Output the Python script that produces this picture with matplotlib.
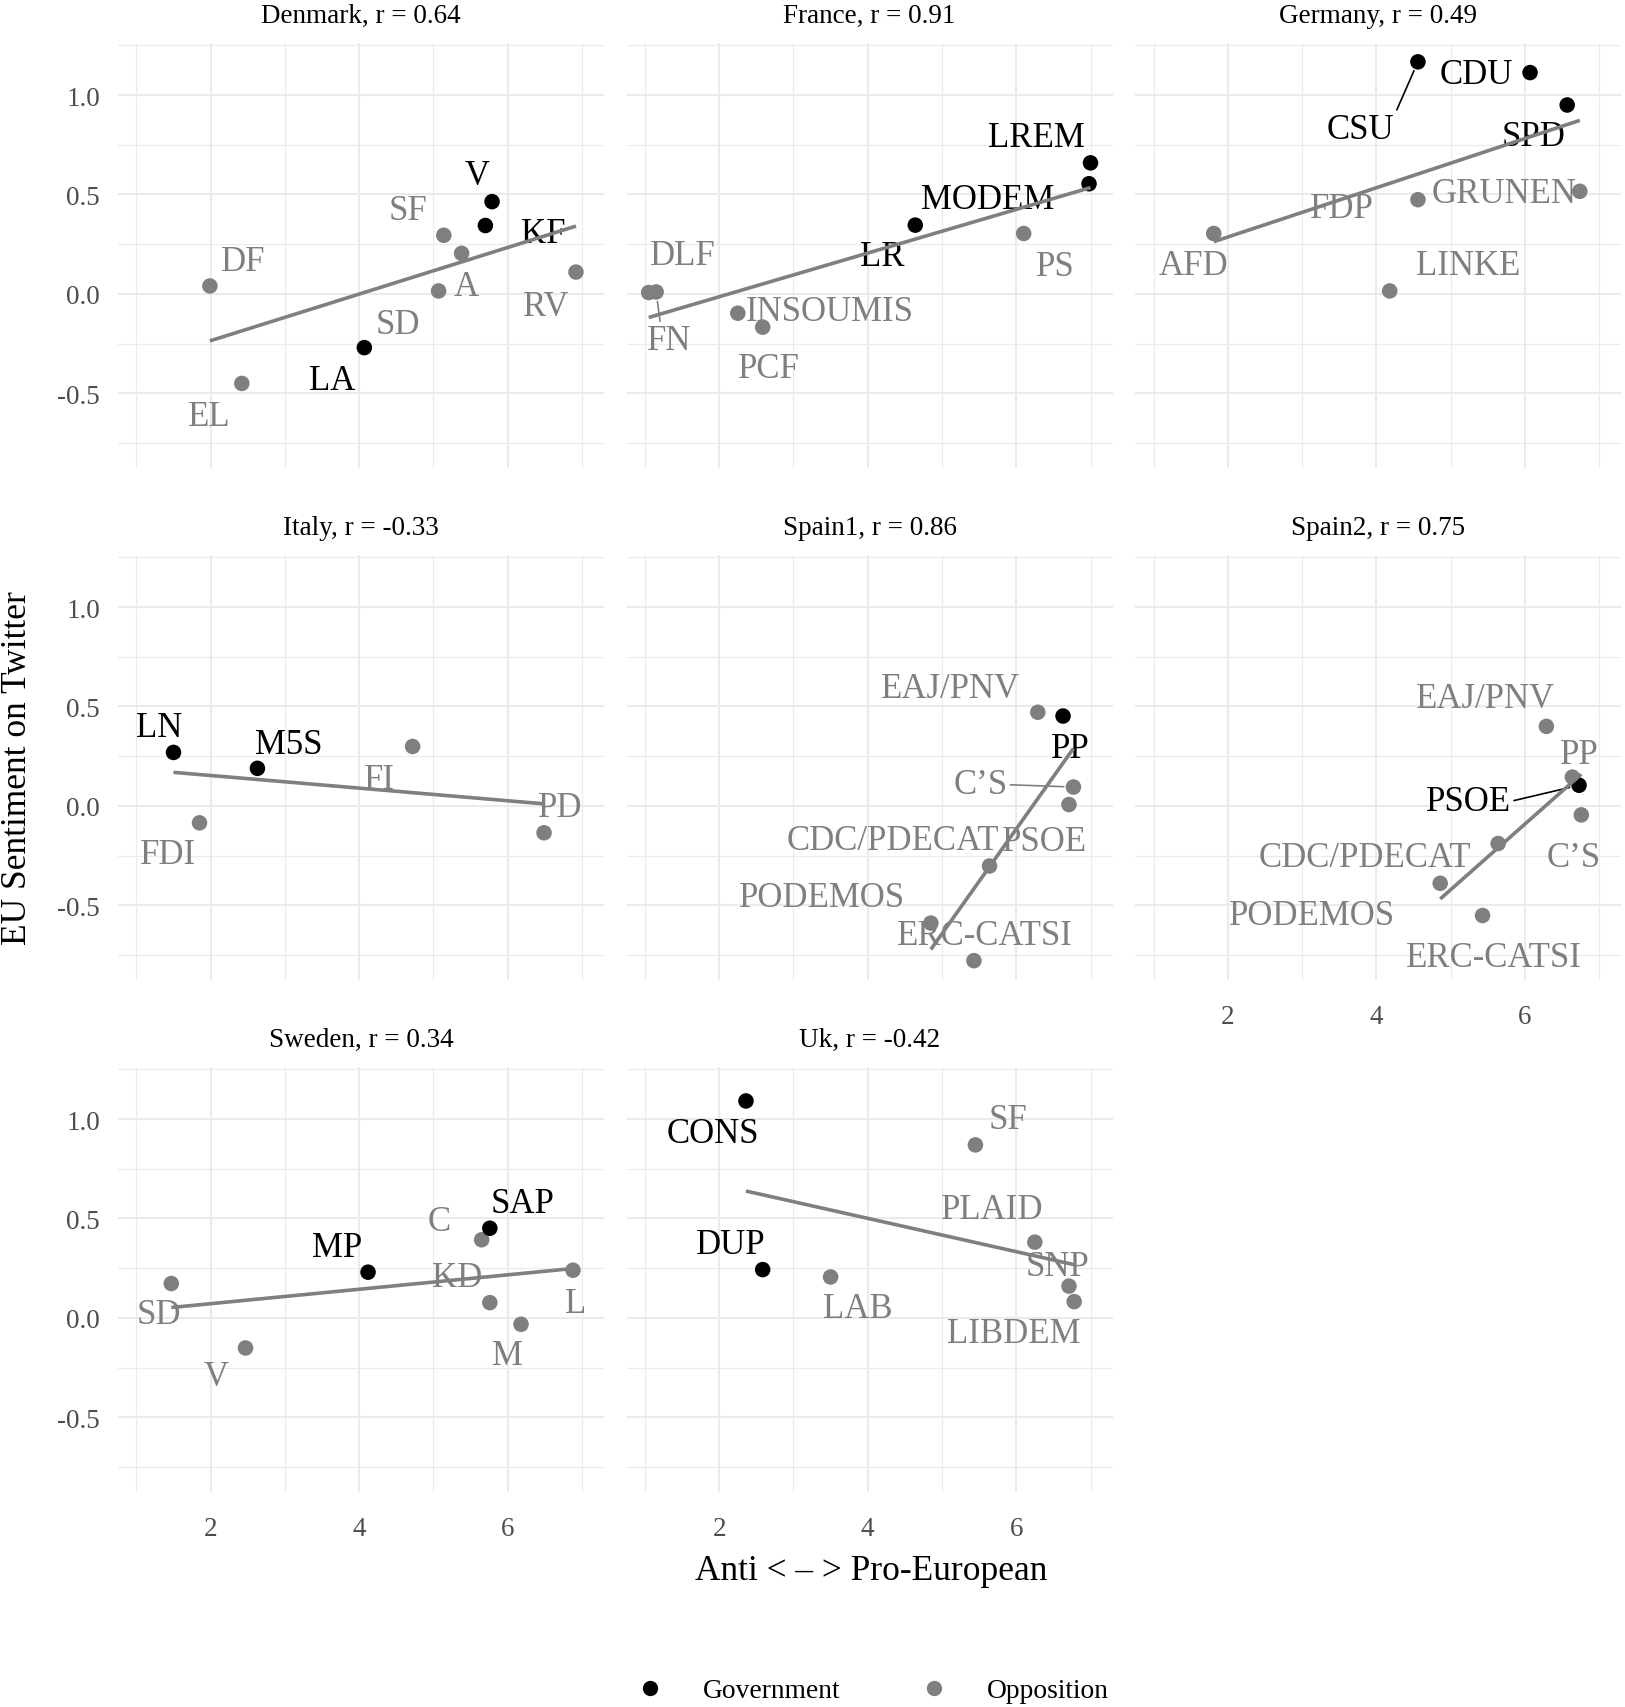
import numpy as np
import matplotlib
matplotlib.use('Agg')
import matplotlib.pyplot as plt
from matplotlib.lines import Line2D

plt.rcParams['font.family'] = ['Liberation Serif', 'DejaVu Serif']

# facet titles
COUNTRIES = ['Denmark', 'France', 'Germany', 'Italy', 'Spain1', 'Spain2', 'Sweden', 'Uk']
R_VALUES = ['0.64', '0.91', '0.49', '-0.33', '0.86', '0.75', '0.34', '-0.42']

# party positions: x = anti/pro-European score, y = EU sentiment on Twitter, gov = 1 for government
DK_PARTY = ['DF', 'EL', 'LA', 'SD', 'A', 'SF', 'V', 'KF', 'RV']
DK_X = [1.99, 2.42, 4.07, 5.07, 5.38, 5.14, 5.79, 5.70, 6.92]
DK_Y = [0.04, -0.45, -0.27, 0.015, 0.204, 0.295, 0.464, 0.344, 0.11]
DK_GOV = [0, 0, 1, 0, 0, 0, 1, 1, 0]

FR_PARTY = ['DLF', 'FN', 'INSOUMIS', 'PCF', 'LR', 'MODEM', 'LREM', 'PS']
FR_X = [1.05, 1.15, 2.25, 2.585, 4.64, 6.98, 7.0, 6.1]
FR_Y = [0.007, 0.01, -0.097, -0.167, 0.346, 0.554, 0.659, 0.304]
FR_GOV = [0, 0, 0, 0, 1, 1, 1, 0]

DE_PARTY = ['CSU', 'CDU', 'SPD', 'GRUNEN', 'FDP', 'AFD', 'LINKE']
DE_X = [4.56, 6.07, 6.57, 6.74, 4.56, 1.81, 4.18]
DE_Y = [1.167, 1.113, 0.95, 0.516, 0.474, 0.304, 0.015]
DE_GOV = [1, 1, 1, 0, 0, 0, 0]

IT_PARTY = ['LN', 'M5S', 'FDI', 'FI', 'PD']
IT_X = [1.5, 2.63, 1.85, 4.72, 6.49]
IT_Y = [0.269, 0.189, -0.085, 0.299, -0.135]
IT_GOV = [1, 1, 0, 0, 0]

ES1_PARTY = ['EAJ/PNV', 'PP', 'C\u2019S', 'PSOE', 'CDC/PDECAT', 'PODEMOS', 'ERC-CATSI']
ES1_X = [6.29, 6.63, 6.77, 6.71, 5.64, 4.85, 5.43]
ES1_Y = [0.471, 0.452, 0.095, 0.007, -0.302, -0.589, -0.778]
ES1_GOV = [0, 1, 0, 0, 0, 0, 0]

ES2_PARTY = ['EAJ/PNV', 'PP', 'PSOE', 'C\u2019S', 'CDC/PDECAT', 'PODEMOS', 'ERC-CATSI']
ES2_X = [6.29, 6.64, 6.73, 6.76, 5.64, 4.86, 5.43]
ES2_Y = [0.40, 0.145, 0.104, -0.045, -0.189, -0.389, -0.551]
ES2_GOV = [0, 0, 1, 0, 0, 0, 0]

SE_PARTY = ['SD', 'V', 'MP', 'C', 'SAP', 'KD', 'M', 'L']
SE_X = [1.47, 2.47, 4.12, 5.65, 5.76, 5.76, 6.18, 6.88]
SE_Y = [0.173, -0.151, 0.23, 0.393, 0.451, 0.077, -0.032, 0.24]
SE_GOV = [0, 0, 1, 0, 1, 0, 0, 0]

UK_PARTY = ['CONS', 'DUP', 'LAB', 'SF', 'PLAID', 'SNP', 'LIBDEM']
UK_X = [2.36, 2.585, 3.5, 5.45, 6.25, 6.71, 6.78]
UK_Y = [1.091, 0.243, 0.206, 0.87, 0.381, 0.16, 0.082]
UK_GOV = [1, 1, 0, 0, 0, 0, 0]

Y_TICKS = [-0.5, 0.0, 0.5, 1.0]
Y_TICK_LABELS = ['-0.5', '0.0', '0.5', '1.0']
X_TICKS = [2, 4, 6]
X_TICK_LABELS = ['2', '4', '6']

# label placement (repel-style offsets, in points) -- layout only
LABEL_OFFSETS = {
    'Denmark': [(24, 17.5), (-23.7, -23.5), (-23.4, -23.8), (-29.5, -24.5), (3.6, -24),
                (-25.7, 17.5), (-11, 18.5), (42, -5.8), (-22, -24.5)],
    'France': [(24.9, 26.4), (9.5, -35), (66, 1.2), (4.6, -30), (-23.7, -22.8),
               (-72.8, -11.5), (-38.8, 18.5), (23.1, -24)],
    'Germany': [(-41.5, -48.5), (-38.8, -1.2), (-24, -22.8), (-54.5, -1.7),
                (-54.7, -6.5), (-14.5, -23.3), (56.5, 18.2)],
    'Italy': [(-10, 18), (22.9, 17), (-22.6, -22.8), (-24.2, -24), (11.5, 18)],
    'Spain1': [(-63, 17.3), (5.1, -23.3), (-66.9, 1.7), (-17.5, -26.4), (-69.4, 18),
               (-78.4, 18.5), (7.7, 18)],
    'Spain2': [(-43.6, 20.2), (4.8, 16), (-79.5, -11.5), (-5.3, -31), (-95.8, -10.3),
               (-92.4, -23.5), (8.5, -30.2)],
    'Sweden': [(-9, -22.3), (-21.3, -20.6), (-22.1, 17.5), (-30.9, 13.2), (23.4, 17.5),
               (-23.7, 18), (-10, -22.8), (2, -24)],
    'Uk': [(-23.7, -23.5), (-23.1, 18), (19.8, -23), (23.7, 18.2), (-30.6, 23.8),
           (-8.5, 14.4), (-43.5, -23)],
}
# labels that get a connector segment: (country, party) -> relpos on the text box
SEGMENTS = {
    ('France', 'FN'): (0.3, 1.0),
    ('Germany', 'CSU'): (1.0, 0.9),
    ('Spain1', 'C\u2019S'): (1.0, 0.5),
    ('Spain2', 'PSOE'): (1.0, 0.5),
}

DATA = {
    'Denmark': (DK_PARTY, DK_X, DK_Y, DK_GOV),
    'France': (FR_PARTY, FR_X, FR_Y, FR_GOV),
    'Germany': (DE_PARTY, DE_X, DE_Y, DE_GOV),
    'Italy': (IT_PARTY, IT_X, IT_Y, IT_GOV),
    'Spain1': (ES1_PARTY, ES1_X, ES1_Y, ES1_GOV),
    'Spain2': (ES2_PARTY, ES2_X, ES2_Y, ES2_GOV),
    'Sweden': (SE_PARTY, SE_X, SE_Y, SE_GOV),
    'Uk': (UK_PARTY, UK_X, UK_Y, UK_GOV),
}

GOV_COL = '#000000'
OPP_COL = '#7f7f7f'
GRID_COL = '#ebebeb'
TICK_COL = '#4d4d4d'

W, H = 1625, 1708
COL_LEFT = [118.0, 626.6, 1135.2]
ROW_TOP = [43.5, 555.5, 1067.5]
PANEL_W, PANEL_H = 486.0, 425.5

# shared scales, ggplot-style 5% expansion
all_x = np.concatenate([np.asarray(v[1], float) for v in DATA.values()])
all_y = np.concatenate([np.asarray(v[2], float) for v in DATA.values()])
xpad = 0.05 * (all_x.max() - all_x.min())
ypad = 0.05 * (all_y.max() - all_y.min())
XLIM = (all_x.min() - xpad, all_x.max() + xpad)
YLIM = (all_y.min() - ypad, all_y.max() + ypad)

fig = plt.figure(figsize=(W / 100, H / 100), dpi=100)

for i, country in enumerate(COUNTRIES):
    row, col = divmod(i, 3)
    ax = fig.add_axes([COL_LEFT[col] / W, 1 - (ROW_TOP[row] + PANEL_H) / H,
                       PANEL_W / W, PANEL_H / H])
    parties, xs, ys, gov = DATA[country]
    xs = np.asarray(xs, float)
    ys = np.asarray(ys, float)
    gov = np.asarray(gov, bool)

    ax.set_xlim(*XLIM)
    ax.set_ylim(*YLIM)
    for s in ax.spines.values():
        s.set_visible(False)
    ax.set_xticks(X_TICKS)
    ax.set_yticks(Y_TICKS)
    ax.set_xticks([1, 3, 5, 7], minor=True)
    ax.set_yticks([-0.75, -0.25, 0.25, 0.75, 1.25], minor=True)
    ax.grid(which='major', color=GRID_COL, lw=1.5, zorder=0)
    ax.grid(which='minor', color=GRID_COL, lw=0.8, zorder=0)
    ax.set_axisbelow(True)
    ax.tick_params(which='both', length=0, labelsize=19.5, labelcolor=TICK_COL)
    ax.tick_params(axis='x', pad=17.5)
    ax.tick_params(axis='y', pad=13)

    if col == 0:
        ax.set_yticklabels(Y_TICK_LABELS)
    else:
        ax.set_yticklabels([])
    # bottom panel of each column carries the x labels
    if i + 3 >= len(COUNTRIES):
        ax.set_xticklabels(X_TICK_LABELS)
    else:
        ax.set_xticklabels([])

    ax.set_title(f'{country}, r = {R_VALUES[i]}', fontsize=19.5, pad=15, color='black')

    colors = np.where(gov, GOV_COL, OPP_COL)
    ax.scatter(xs, ys, s=125, c=colors, linewidths=0, zorder=2)

    for p, x, y, g, (dx, dy) in zip(parties, xs, ys, gov, LABEL_OFFSETS[country]):
        c = GOV_COL if g else OPP_COL
        kw = {}
        if (country, p) in SEGMENTS:
            kw['arrowprops'] = dict(arrowstyle='-', color=c, lw=1.2, shrinkA=0, shrinkB=7,
                                    relpos=SEGMENTS[(country, p)])
        ax.annotate(p, (x, y), xytext=(dx, dy), textcoords='offset points',
                    ha='center', va='center', fontsize=25, color=c, zorder=3, **kw)

    # linear fit across the party range
    slope, icpt = np.polyfit(xs, ys, 1)
    fx = np.array([xs.min(), xs.max()])
    ax.plot(fx, icpt + slope * fx, color=OPP_COL, lw=2.6, solid_capstyle='butt', zorder=4)

fig.text(871 / W, 1 - 1572 / H, 'Anti < \u2013 > Pro-European', ha='center', va='center',
         fontsize=25.5)
fig.text(17.5 / W, 1 - 768 / H, 'EU Sentiment on Twitter', rotation=90, ha='center',
         va='center', fontsize=25.5)

handles = [Line2D([], [], ls='', marker='o', markersize=10, color=GOV_COL),
           Line2D([], [], ls='', marker='o', markersize=10, color=OPP_COL)]
fig.legend(handles, ['Government', 'Opposition'], loc='center',
           bbox_to_anchor=(0.537, 0.0095), ncol=2, frameon=False, fontsize=19.8,
           handlelength=1, handletextpad=1.42, columnspacing=2.9, borderpad=0)

fig.savefig('out.png', dpi=100)
